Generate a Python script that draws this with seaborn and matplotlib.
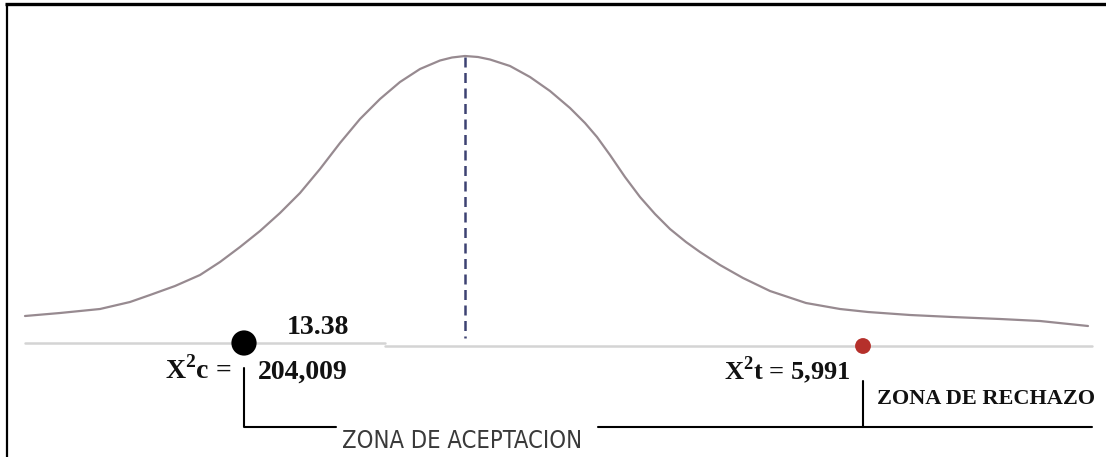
import matplotlib
matplotlib.use("Agg")
import matplotlib.pyplot as plt
import seaborn as sns
import pandas as pd

# curve (horizontal position, height on page)
curve_x = [25, 60, 100, 130, 150, 175, 200, 220, 240, 260, 280, 300, 320, 340,
           360, 380, 400, 420, 440, 452, 465, 478, 490, 510, 530, 550, 570,
           585, 597, 610, 625, 640, 655, 670, 686, 700, 720, 743, 770, 806,
           840, 868, 910, 952, 1000, 1040, 1088]
curve_y = [316, 313, 309, 302, 295, 286, 275, 262, 247, 231, 213, 193, 169, 143,
           119, 99, 82, 69, 60.5, 57.5, 56, 57, 59.5, 66, 77, 91, 108,
           123, 137, 155, 177, 197, 214, 229, 242, 252, 265, 278, 291, 303,
           309, 312, 315, 317, 319, 321, 326]

peak_x = 465
critical_labels = [r"$\mathbf{X}^{\mathbf{2}}$c = ", r"$\mathbf{X}^{\mathbf{2}}$t = 5,991"]
calc_value = "204,009"
dot_value = "13.38"
zone_labels = ["ZONA DE ACEPTACION", "ZONA DE RECHAZO"]
dots = pd.DataFrame({"x": [244, 863], "y": [343, 346], "kind": ["calc", "tab"]})

sns.set_style("white")
plt.rcParams["font.family"] = ["Liberation Serif", "DejaVu Serif"]
plt.rcParams["mathtext.fontset"] = "custom"
plt.rcParams["mathtext.rm"] = "Liberation Serif"
plt.rcParams["mathtext.bf"] = "Liberation Serif:bold"

fig = plt.figure(figsize=(11.06, 4.57), dpi=100)
ax = fig.add_axes([0, 0, 1, 1])
ax.set_xlim(0, 1106)
ax.set_ylim(457, 0)
ax.axis("off")

# frame lines (top and left)
ax.plot([5, 1106], [4, 4], color="black", lw=2.4, solid_capstyle="butt")
ax.plot([7, 7], [4, 457], color="black", lw=1.6, solid_capstyle="butt")

# baseline
ax.plot([25, 385], [343, 343], color="#d4d4d4", lw=1.8)
ax.plot([385, 1092], [346, 346], color="#d4d4d4", lw=1.8)

# bell curve
df = pd.DataFrame({"x": curve_x, "y": curve_y})
sns.lineplot(data=df, x="x", y="y", ax=ax, color="#978a90", lw=1.6, sort=False)

# mean line
ax.plot([peak_x, peak_x], [57, 338], color="#3d4272", lw=1.8, ls=(0, (4, 2.2)))

# points
sns.scatterplot(data=dots, x="x", y="y", hue="kind", size="kind",
                palette={"calc": "black", "tab": "#b5302b"},
                sizes={"calc": 330, "tab": 130}, edgecolor="none",
                legend=False, ax=ax, zorder=5)

# bracket lines
ax.plot([244, 244, 336], [368, 427, 427], color="black", lw=1.5)
ax.plot([598, 1092], [427, 427], color="black", lw=1.5)
ax.plot([863, 863], [381, 427], color="black", lw=1.5)

bold = dict(fontweight="bold", va="center", ha="left", color="#111111")
ax.text(287, 327, dot_value, fontsize=20, **bold)
ax.text(165, 370, critical_labels[0], fontsize=20, **bold)
ax.text(258, 372, calc_value, fontsize=20, **bold)
ax.text(724, 370, critical_labels[1], fontsize=19, **bold)
ax.text(877, 399, zone_labels[1], fontsize=16, **bold)
ax.text(342, 441, zone_labels[0], fontsize=17, va="center", ha="left",
        color="#3a3a3a", family="DejaVu Sans", fontstretch="condensed")

fig.savefig("out.png", dpi=100)
